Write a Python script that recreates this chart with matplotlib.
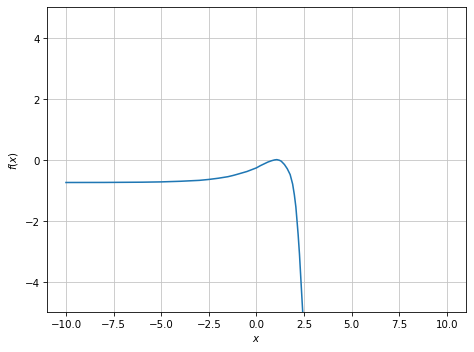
import matplotlib
matplotlib.use('Agg')
import matplotlib.pyplot as plt

# values
x_vals = [-10.0, -8.0, -6.0, -5.0, -4.0, -3.0, -2.5, -2.0, -1.5, -1.23, -1.0, -0.5, 0.0,
          0.2, 0.4, 0.6, 0.8, 0.95, 1.07, 1.2, 1.3, 1.47, 1.62, 1.77, 1.9, 1.99,
          2.07, 2.13, 2.19, 2.26, 2.34, 2.43, 2.52]
y_vals = [-0.75, -0.748, -0.74, -0.73, -0.71, -0.68, -0.65, -0.61, -0.56, -0.52, -0.48, -0.39, -0.27,
          -0.2, -0.14, -0.08, -0.035, -0.01, 0.0, -0.02, -0.05, -0.16, -0.3, -0.49, -0.8, -1.15,
          -1.55, -2.0, -2.46, -3.1, -4.0, -5.0, -6.2]

# original was 640x480 scaled down to 474 wide
fig, ax = plt.subplots(figsize=(6.4, 4.766), dpi=474 / 6.4)
ax.plot(x_vals, y_vals, color='C0')
ax.set_xlim(-11, 11)
ax.set_ylim(-5, 5)
ax.set_xticks([-10, -7.5, -5, -2.5, 0, 2.5, 5, 7.5, 10])
ax.set_yticks([-4, -2, 0, 2, 4])
ax.grid(True, color='#c4c4c4')
ax.set_xlabel('$x$')
ax.set_ylabel('$f(x)$')
plt.subplots_adjust(left=0.099, right=0.983, bottom=0.113, top=0.977)
plt.savefig('out.png')
